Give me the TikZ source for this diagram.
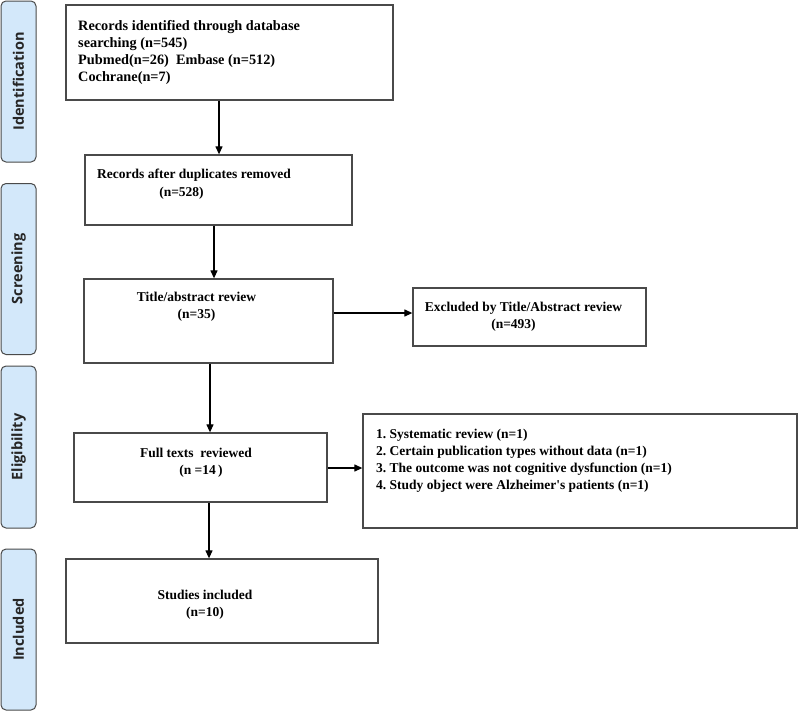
\documentclass[tikz,border=0pt]{standalone}
\usepackage{fontspec}
\setmainfont{Liberation Serif}
\newfontfamily\tabfont{Open Sans}
\usetikzlibrary{arrows.meta}
\definecolor{tabfill}{HTML}{D3E8FA}
\definecolor{edge}{HTML}{4A4A4A}
\tikzset{
  box/.style={draw=edge, line width=1.3pt, fill=white, inner sep=0pt},
  tabbox/.style={draw=edge, line width=1pt, fill=tabfill, rounded corners=5pt, rotate=90,
    font=\tabfont\bfseries\fontsize{14.5}{15}\selectfont, text=black!85, inner sep=0pt},
  txt/.style={font=\bfseries\fontsize{13.5}{17}\selectfont, inner sep=0pt},
  txtl/.style={txt, align=left, anchor=north west, font=\bfseries\fontsize{13.5}{17}\selectfont},
  arr/.style={-{Triangle[length=8pt,width=7pt]}, line width=1.2pt, draw=black},
}
\begin{document}
\begin{tikzpicture}[x=1pt,y=-1pt]
\useasboundingbox (0,0) rectangle (800,712);
% side tabs
\node[tabbox, minimum width=161pt, minimum height=35pt] (tabI) at (18.5,81.5) {Identification};
\node[tabbox, minimum width=171pt, minimum height=35pt] (tabS) at (18.5,269) {Screening};
\node[tabbox, minimum width=162pt, minimum height=35pt] (tabE) at (18.5,447) {Eligibility};
\node[tabbox, minimum width=161pt, minimum height=35pt] (tabN) at (18.5,629.5) {Included};
% boxes
\node[box, minimum width=327pt, minimum height=95pt] (b1) at (229.5,52.5) {};
\node[box, minimum width=267pt, minimum height=70pt] (b2) at (218.5,190) {};
\node[box, minimum width=249pt, minimum height=84pt] (b3) at (208.5,321) {};
\node[box, minimum width=233pt, minimum height=58pt] (b4) at (529.5,317) {};
\node[box, minimum width=253pt, minimum height=69pt] (b5) at (200.5,467.5) {};
\node[box, minimum width=434pt, minimum height=114pt] (b6) at (580,471) {};
\node[box, minimum width=312pt, minimum height=84pt] (b7) at (222,601) {};
% texts
\node[txtl, font=\bfseries\fontsize{14.3}{17}\selectfont] (t1) at (78,20) {Records identified through database\\searching (n=545)\\Pubmed(n=26)\ \ Embase (n=512)\\Cochrane(n=7)};
\node[txt, anchor=west] (t2a) at (97,175) {Records after duplicates removed};
\node[txt] (t2b) at (181.5,193) {(n=528)};
\node[txt, align=center] (t3) at (196.5,306.5) {Title/abstract review\\(n=35)};
\node[txt] (t4a) at (523.5,308) {Excluded by Title/Abstract review};
\node[txt] (t4b) at (513.5,325) {(n=493)};
\node[txt] (t5a) at (196,453) {Full texts\ \ reviewed};
\node[txt] (t5b) at (201,471) {(n =14\,)};
\node[txtl] (t6) at (376,429) {1.\ Systematic review (n=1)\\2.\ Certain publication types without data (n=1)\\3.\ The outcome was not cognitive dysfunction (n=1)\\4.\ Study object were Alzheimer\textquotesingle s patients (n=1)};
\node[txt, align=center] (t7) at (205,605) {Studies included\\(n=10)};
% arrows
\coordinate (x1) at (219,0);
\coordinate (x2) at (214,0);
\coordinate (x3) at (210,0);
\coordinate (x5) at (209,0);
\coordinate (y3) at (0,313);
\coordinate (y5) at (0,468);
\draw[arr] (b1.south -| x1) -- (b2.north -| x1);
\draw[arr] (b2.south -| x2) -- (b3.north -| x2);
\draw[arr] (b3.east |- y3) -- (b4.west |- y3);
\draw[arr] (b3.south -| x3) -- (b5.north -| x3);
\draw[arr] (b5.east |- y5) -- (b6.west |- y5);
\draw[arr] (b5.south -| x5) -- (b7.north -| x5);
\end{tikzpicture}
\end{document}
